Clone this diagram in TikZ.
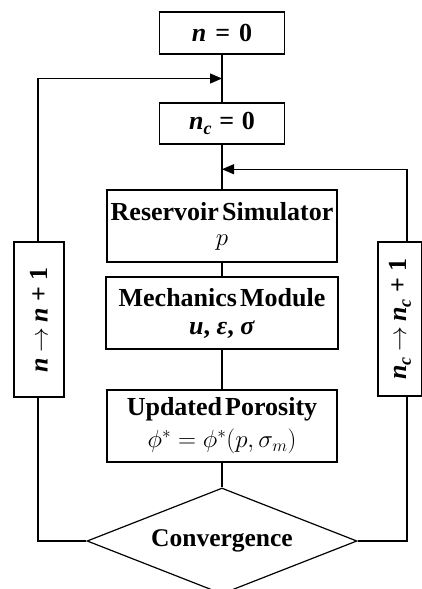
\documentclass[tikz,border=0pt]{standalone}
\usepackage{fontspec}
\setmainfont{Liberation Serif}
\usetikzlibrary{shapes.geometric,arrows.meta,calc}

\newcommand{\sub}[1]{\raisebox{-0.4ex}{\fontsize{18}{18}\selectfont\textit{#1}}}

\begin{document}
\begin{tikzpicture}[x=1pt,y=-1pt, line width=1.2pt,
  box/.style={draw, rectangle, inner sep=0pt, align=center,
    font=\fontsize{26}{26}\selectfont\bfseries},
  loopbox/.style={draw, rectangle, rotate=90, inner sep=0pt,
    font=\fontsize{26}{26}\selectfont\bfseries},
  decision/.style={draw, diamond, aspect=2.55, inner sep=0pt,
    minimum width=270pt, minimum height=106pt,
    font=\fontsize{25.5}{26}\selectfont\bfseries},
  flow/.style={-{Triangle[length=12pt,width=10pt]}}
]
\useasboundingbox (0,0) rectangle (422,589);

% main column
\node[box, minimum width=125pt, minimum height=42pt] (n0) at (222,33)
  {\textit{n}\hspace{0.35em}=\hspace{0.35em}0};
\node[box, minimum width=125pt, minimum height=41pt] (nc0) at (222,123.5)
  {\textit{n}\sub{c}\hspace{0.3em}=\hspace{0.3em}0};
\node[box, minimum width=230pt, minimum height=72pt] (res) at (222,226)
  {Reservoir\hspace{0.12em}Simulator\\[-1pt]
   \mdseries\fontsize{27}{27}\selectfont$p$};
\node[box, minimum width=232pt, minimum height=72pt] (mech) at (222,313)
  {Mechanics\hspace{0.12em}Module\\[2pt]
   \textit{u}, \textit{ε}, \textit{σ}};
\node[box, minimum width=230pt, minimum height=72pt] (por) at (222,426)
  {Updated\hspace{0.12em}Porosity\\[6pt]
   \mdseries\fontsize{23}{23}\selectfont$\phi^{*}=\phi^{*}(p,\sigma_{m})$};
\node[decision] (conv) at (222,541) {Convergence};

% loop counters
\node[loopbox, minimum width=155pt, minimum height=50pt] (nloop) at (39,319.5)
  {\textit{n}\hspace{0.2em}$\rightarrow$\hspace{0.2em}\textit{n}\hspace{0.25em}+\hspace{0.25em}1};
\node[loopbox, minimum width=154pt, minimum height=44pt] (cloop) at (400,319)
  {\textit{n}\sub{c}\hspace{0.2em}$\rightarrow$\hspace{0.2em}\textit{n}\sub{c}\hspace{0.25em}+\hspace{0.25em}1};

% junctions on the main column
\coordinate (j1) at ($(n0.south)!0.5!(nc0.north)$);
\coordinate (j2) at ($(nc0.south)!0.55!(res.north)$);

% straight flow
\draw (n0.south) -- (nc0.north);
\draw (nc0.south) -- (res.north);
\draw (res.south) -- (mech.north);
\draw (mech.south) -- (por.north);
\draw (por.south) -- (conv.north);

% outer loop
\draw (conv.west) -| ([xshift=-1pt]nloop.west);
\draw[flow] ([xshift=-1pt]nloop.east) |- (j1);

% inner loop
\draw (conv.east) -| ([xshift=7pt]cloop.west);
\draw[flow] ([xshift=7pt]cloop.east) |- (j2);
\end{tikzpicture}
\end{document}
